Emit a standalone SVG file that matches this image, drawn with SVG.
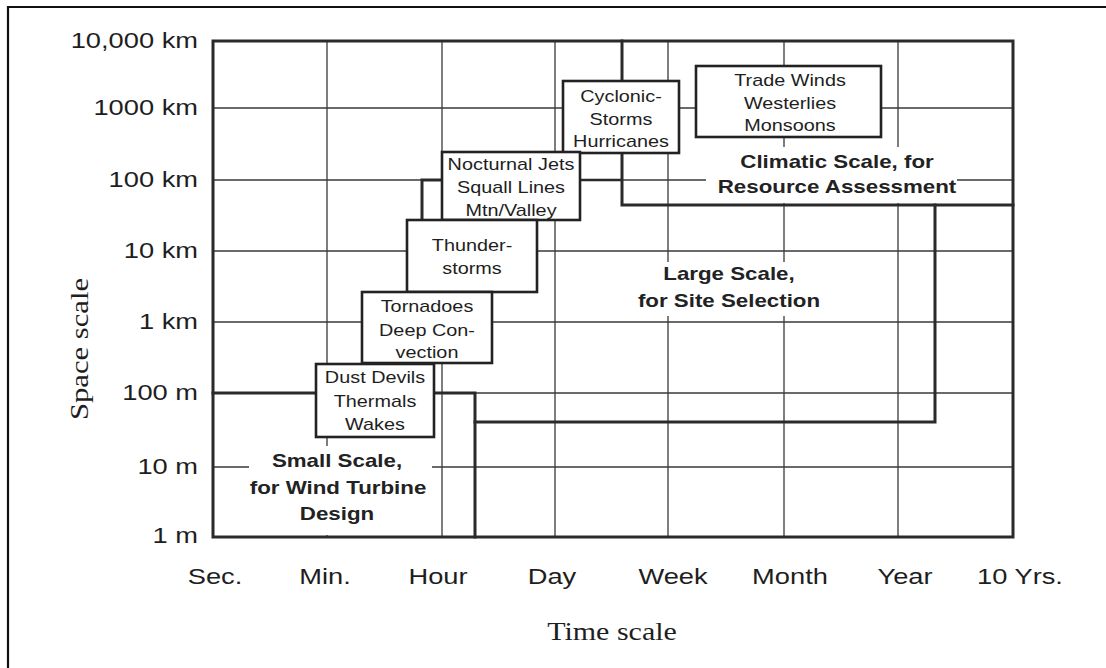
<svg xmlns="http://www.w3.org/2000/svg" width="1106" height="668" viewBox="0 0 1106 668">
  <style>
    .grid { stroke: #3a3a3a; stroke-width: 1.3; fill: none; }
    .thick { stroke: #2a2a2a; stroke-width: 3; fill: none; stroke-linecap: square; }
    .med { stroke: #2a2a2a; stroke-width: 2.4; fill: none; }
    .box { fill: #ffffff; stroke: #222; stroke-width: 2.6; }
    .mask { fill: #ffffff; stroke: none; }
    .bt { font-family: "Liberation Sans", Arial, sans-serif; font-size: 16px; fill: #1e1e1e; text-anchor: middle; }
    .rt { font-family: "Liberation Sans", Arial, sans-serif; font-size: 18px; font-weight: bold; fill: #222; text-anchor: middle; }
    .yt { font-family: "Liberation Sans", Arial, sans-serif; font-size: 22px; fill: #1e1e1e; text-anchor: end; }
    .xt { font-family: "Liberation Sans", Arial, sans-serif; font-size: 22px; fill: #1e1e1e; text-anchor: middle; }
    .ti { font-family: "Liberation Serif", "Times New Roman", serif; font-size: 25px; fill: #1e1e1e; text-anchor: middle; }
  </style>
  <rect x="0" y="0" width="1106" height="668" fill="#ffffff"/>
  <!-- outer frame -->
  <path d="M8 668 V7 H1106" stroke="#111" stroke-width="2.2" fill="none"/>

  <g id="connectors">
    <!-- vertical grid lines -->
    <path class="grid" d="M327 41V537 M442 41V537 M555 41V537 M668 41V537 M784 41V537 M898 41V537"/>
    <!-- horizontal grid lines -->
    <path class="grid" d="M213 108H1013 M213 180H1013 M213 251H1013 M213 322H1013 M213 393H1013 M213 467H1013"/>
    <!-- masks behind region labels -->
    <rect class="mask" x="706" y="147" width="251" height="56"/>
    <rect class="mask" x="632" y="262" width="194" height="54"/>
    <rect class="mask" x="249" y="446" width="183" height="89"/>
    <!-- region boundaries -->
    <path class="thick" d="M622 41V81 M622 153V205H1013"/>
    <path class="med" d="M580 180H622"/>
    <path class="thick" d="M422 220V180H442"/>
    <path class="thick" d="M935 205V422H475"/>
    <path class="thick" d="M213 393H316 M434 393H475V537"/>
    <!-- plot frame -->
    <rect class="thick" x="213" y="41" width="800" height="496"/>
  </g>

  <g id="node-trade">
    <rect class="box" x="696" y="66" width="185" height="71"/>
    <text class="bt" transform="translate(790 86) scale(1.24 1)">Trade Winds</text>
    <text class="bt" transform="translate(790 108.5) scale(1.24 1)">Westerlies</text>
    <text class="bt" transform="translate(790 131) scale(1.24 1)">Monsoons</text>
  </g>
  <g id="node-cyclonic">
    <rect class="box" x="563" y="81" width="116" height="72"/>
    <text class="bt" transform="translate(621 102) scale(1.24 1)">Cyclonic-</text>
    <text class="bt" transform="translate(621 124.5) scale(1.24 1)">Storms</text>
    <text class="bt" transform="translate(621 147) scale(1.24 1)">Hurricanes</text>
  </g>
  <g id="node-nocturnal">
    <rect class="box" x="442" y="152" width="138" height="68"/>
    <text class="bt" transform="translate(511 170) scale(1.24 1)">Nocturnal Jets</text>
    <text class="bt" transform="translate(511 193) scale(1.24 1)">Squall Lines</text>
    <text class="bt" transform="translate(511 216) scale(1.24 1)">Mtn/Valley</text>
  </g>
  <g id="node-thunder">
    <rect class="box" x="407" y="220" width="130" height="72"/>
    <text class="bt" transform="translate(472 251) scale(1.24 1)">Thunder-</text>
    <text class="bt" transform="translate(472 274) scale(1.24 1)">storms</text>
  </g>
  <g id="node-tornado">
    <rect class="box" x="362" y="292" width="130" height="71"/>
    <text class="bt" transform="translate(427 312) scale(1.24 1)">Tornadoes</text>
    <text class="bt" transform="translate(427 336) scale(1.24 1)">Deep Con-</text>
    <text class="bt" transform="translate(427 358) scale(1.24 1)">vection</text>
  </g>
  <g id="node-dust">
    <rect class="box" x="316" y="364" width="118" height="73"/>
    <text class="bt" transform="translate(375 383) scale(1.24 1)">Dust Devils</text>
    <text class="bt" transform="translate(375 407) scale(1.24 1)">Thermals</text>
    <text class="bt" transform="translate(375 430) scale(1.24 1)">Wakes</text>
  </g>

  <g id="label-climatic">
    <text class="rt" transform="translate(837 168) scale(1.24 1)">Climatic Scale, for</text>
    <text class="rt" transform="translate(837 193) scale(1.24 1)">Resource Assessment</text>
  </g>
  <g id="label-large">
    <text class="rt" transform="translate(729 280) scale(1.24 1)">Large Scale,</text>
    <text class="rt" transform="translate(729 307) scale(1.24 1)">for Site Selection</text>
  </g>
  <g id="label-small">
    <text class="rt" transform="translate(337 467) scale(1.24 1)">Small Scale,</text>
    <text class="rt" transform="translate(338 494) scale(1.24 1)">for Wind Turbine</text>
    <text class="rt" transform="translate(337 520) scale(1.24 1)">Design</text>
  </g>

  <g id="y-axis">
    <text class="yt" transform="translate(198 48) scale(1.24 1)">10,000 km</text>
    <text class="yt" transform="translate(198 115) scale(1.24 1)">1000 km</text>
    <text class="yt" transform="translate(198 187) scale(1.24 1)">100 km</text>
    <text class="yt" transform="translate(198 258) scale(1.24 1)">10 km</text>
    <text class="yt" transform="translate(198 329) scale(1.24 1)">1 km</text>
    <text class="yt" transform="translate(198 400) scale(1.24 1)">100 m</text>
    <text class="yt" transform="translate(198 474) scale(1.24 1)">10 m</text>
    <text class="yt" transform="translate(198 543) scale(1.24 1)">1 m</text>
    <text class="ti" transform="translate(88 349) rotate(-90)" textLength="142" lengthAdjust="spacingAndGlyphs">Space scale</text>
  </g>
  <g id="x-axis">
    <text class="xt" transform="translate(215 584) scale(1.24 1)">Sec.</text>
    <text class="xt" transform="translate(325 584) scale(1.24 1)">Min.</text>
    <text class="xt" transform="translate(438 584) scale(1.24 1)">Hour</text>
    <text class="xt" transform="translate(552 584) scale(1.24 1)">Day</text>
    <text class="xt" transform="translate(673 584) scale(1.24 1)">Week</text>
    <text class="xt" transform="translate(790 584) scale(1.24 1)">Month</text>
    <text class="xt" transform="translate(905 584) scale(1.24 1)">Year</text>
    <text class="xt" transform="translate(1020 584) scale(1.24 1)">10 Yrs.</text>
    <text class="ti" transform="translate(612 640) scale(1.2 1)">Time scale</text>
  </g>
</svg>
